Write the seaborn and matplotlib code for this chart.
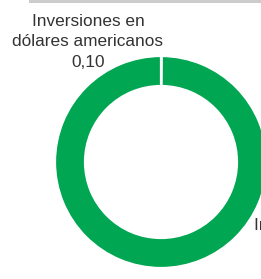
import matplotlib
matplotlib.use("Agg")
import matplotlib.pyplot as plt
from matplotlib.patches import Rectangle
import seaborn as sns

# slices (in %)
categories = ["Inversiones en\ndólares americanos", "Inversiones en\nsoles"]
values = [0.10, 99.90]
value_labels = ["0,10", "99,90"]

sns.set_theme(style="white")
plt.rcParams["font.family"] = ["Liberation Sans", "DejaVu Sans"]

green = "#00a651"
text_color = "#333333"

W, H = 261, 279
fig = plt.figure(figsize=(W / 100, H / 100), dpi=100)
fig.patch.set_facecolor("white")

# donut: centre (161, 162) px, outer radius 106 px
cx, cy, r = 161, 162, 106
ax = fig.add_axes([(cx - r) / W, (H - cy - r) / H, 2 * r / W, 2 * r / H])
ax.pie(values, colors=[green, green], startangle=90, counterclock=False,
       radius=1, wedgeprops=dict(width=30 / 106, edgecolor="white", linewidth=1.6))
ax.set_xlim(-1, 1)
ax.set_ylim(-1, 1)
ax.set_aspect("auto")
ax.axis("off")

# grey rule at the top
fig.add_artist(Rectangle((29 / W, 1 - 3 / H), 1 - 29 / W, 3 / H,
                         transform=fig.transFigure, color="#cccccc", lw=0))

fig.text(88 / W, 1 - 42 / H, f"{categories[0]}\n{value_labels[0]}",
         ha="center", va="center", multialignment="center", linespacing=1.42,
         fontsize=12.4, color=text_color)
fig.text(254 / W, 1 - 218 / H, f"{categories[1]}\n{value_labels[1]}",
         ha="left", va="top", multialignment="center", linespacing=1.42,
         fontsize=12.4, color=text_color)

fig.savefig("out.png", dpi=100)
